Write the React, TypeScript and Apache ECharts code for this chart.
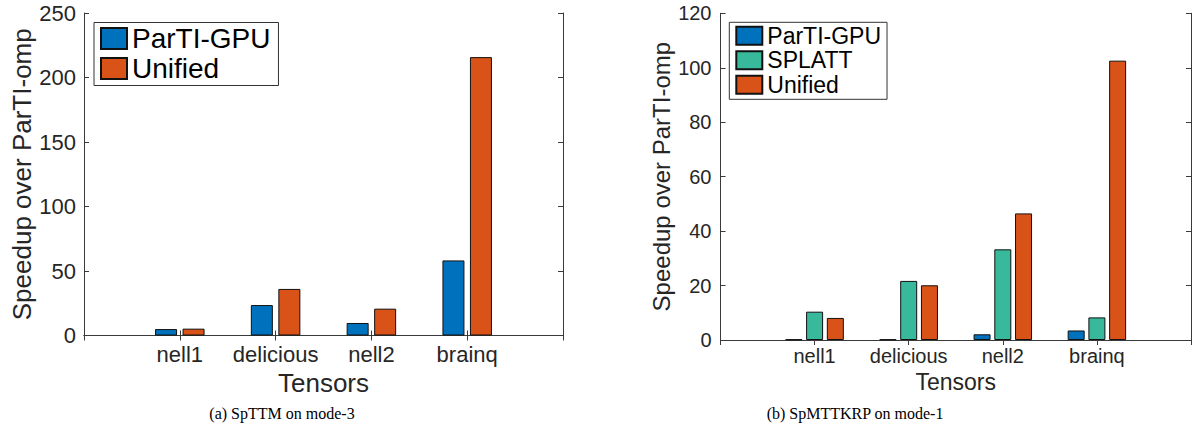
import React, { useEffect, useRef } from "react";
import * as echarts from "echarts";

// ---- Data ----
const tensors = ["nell1", "delicious", "nell2", "brainq"];
// (a) SpTTM on mode-3
const ttmPartiGpu = [5.0, 23.6, 9.7, 58.2];
const ttmUnified = [5.3, 36.1, 20.8, 215.8];
// (b) SpMTTKRP on mode-1
const mttkrpPartiGpu = [0.2, 0.2, 2.1, 3.5];
const mttkrpSplatt = [10.4, 21.7, 33.3, 8.3];
const mttkrpUnified = [8.1, 20.1, 46.5, 102.6];

const captions = ["(a) SpTTM on mode-3", "(b) SpMTTKRP on mode-1"];

const BLUE = "#0072BD";
const ORANGE = "#D95319";
const GREEN = "#38B99B";
const AXIS = "#3a3a3a";
const TXT = "#262626";
const FONT = "Liberation Sans";

const cats = ["", ...tensors, ""];
const pad = (a: number[]) => ["-", ...a, "-"];

export default function App() {
  const ref = useRef<HTMLDivElement>(null);
  useEffect(() => {
    if (!ref.current) return;
    const chart = echarts.init(ref.current, null, { renderer: "svg" });

    const mainX = (grid: number, fs: number, margin: number, nfs: number, ngap: number) => ({
      gridIndex: grid,
      type: "category",
      data: cats,
      boundaryGap: false,
      axisLine: { lineStyle: { color: AXIS, width: 1 } },
      axisTick: { inside: true, length: 5, lineStyle: { color: AXIS } },
      axisLabel: { fontSize: fs, color: TXT, margin, interval: 0, fontFamily: FONT },
      splitLine: { show: false },
      name: "Tensors",
      nameLocation: "middle",
      nameGap: ngap,
      nameTextStyle: { fontSize: nfs, color: TXT, fontFamily: FONT },
    });
    const topX = (grid: number) => ({
      gridIndex: grid,
      type: "category",
      data: cats,
      boundaryGap: false,
      position: "top",
      axisLine: { lineStyle: { color: AXIS, width: 1 } },
      axisTick: { inside: true, length: 5, lineStyle: { color: AXIS } },
      axisLabel: { show: false },
      splitLine: { show: false },
    });
    const mainY = (grid: number, max: number, interval: number, fs: number, margin: number, nfs: number, ngap: number) => ({
      gridIndex: grid,
      type: "value",
      min: 0,
      max,
      interval,
      axisLine: { show: true, lineStyle: { color: AXIS, width: 1 } },
      axisTick: { show: true, inside: true, length: 5, lineStyle: { color: AXIS } },
      axisLabel: { fontSize: fs, color: TXT, margin, fontFamily: FONT },
      splitLine: { show: false },
      name: "Speedup over ParTI-omp",
      nameLocation: "middle",
      nameGap: ngap,
      nameTextStyle: { fontSize: nfs, color: TXT, fontFamily: FONT },
    });
    const rightY = (grid: number, max: number, interval: number) => ({
      gridIndex: grid,
      type: "value",
      min: 0,
      max,
      interval,
      position: "right",
      axisLine: { show: true, lineStyle: { color: AXIS, width: 1 } },
      axisTick: { show: true, inside: true, length: 5, lineStyle: { color: AXIS } },
      axisLabel: { show: false },
      splitLine: { show: false },
    });

    const bar = (name: string, xi: number, yi: number, data: number[], color: string, w: number, gap: string) => ({
      name,
      type: "bar",
      xAxisIndex: xi,
      yAxisIndex: yi,
      data: pad(data),
      barWidth: w,
      barGap: gap,
      itemStyle: { color, borderColor: "#111", borderWidth: 1 },
    });

    const option: any = {
      animation: false,
      textStyle: { fontFamily: FONT },
      grid: [
        { left: 84, right: 631, top: 13, bottom: 91.5 },
        { left: 720.5, right: -4.5, top: 13.3, bottom: 87 },
      ],
      xAxis: [mainX(0, 22, 8, 26, 31), topX(0), mainX(1, 20, 6, 23, 29), topX(1)],
      yAxis: [
        mainY(0, 250, 50, 22, 8, 26, 49),
        rightY(0, 250, 50),
        mainY(1, 120, 20, 20, 9, 24, 47),
        rightY(1, 120, 20),
      ],
      legend: [
        {
          data: ["ParTI-GPU", "Unified"],
          orient: "vertical",
          left: 94,
          top: 22.5,
          icon: "rect",
          itemWidth: 26,
          itemHeight: 21,
          itemGap: 2,
          padding: [2, 8, 3, 6],
          borderColor: "#333",
          borderWidth: 1,
          backgroundColor: "#fff",
          selectedMode: false,
          textStyle: { fontSize: 28, lineHeight: 28, color: "#000", fontFamily: FONT },
        },
        {
          data: ["ParTI-GPU", "SPLATT", "Unified"],
          orient: "vertical",
          left: 729.3,
          top: 22.3,
          icon: "rect",
          itemWidth: 26,
          itemHeight: 18,
          itemGap: 1.5,
          padding: [2, 6, 3, 6],
          borderColor: "#333",
          borderWidth: 1,
          backgroundColor: "#fff",
          selectedMode: false,
          textStyle: { fontSize: 23, lineHeight: 23, color: "#000", fontFamily: FONT },
        },
      ],
      series: [
        bar("ParTI-GPU", 0, 0, ttmPartiGpu, BLUE, 22, "25%"),
        bar("Unified", 0, 0, ttmUnified, ORANGE, 22, "25%"),
        bar("ParTI-GPU", 2, 2, mttkrpPartiGpu, BLUE, 17, "22%"),
        bar("SPLATT", 2, 2, mttkrpSplatt, GREEN, 17, "22%"),
        bar("Unified", 2, 2, mttkrpUnified, ORANGE, 17, "22%"),
      ],
      graphic: [
        {
          type: "text",
          x: 282,
          y: 413,
          style: {
            text: captions[0],
            fontSize: 16,
            fontFamily: "Liberation Serif",
            fill: "#000",
            align: "center",
            verticalAlign: "middle",
          },
        },
        {
          type: "text",
          x: 855,
          y: 413,
          style: {
            text: captions[1],
            fontSize: 16,
            fontFamily: "Liberation Serif",
            fill: "#000",
            align: "center",
            verticalAlign: "middle",
          },
        },
      ],
    };
    chart.setOption(option);
    return () => chart.dispose();
  }, []);
  return (
    <div
      ref={ref}
      style={{ position: "fixed", left: 0, top: 0, width: 1194, height: 427, background: "#fff" }}
    />
  );
}
